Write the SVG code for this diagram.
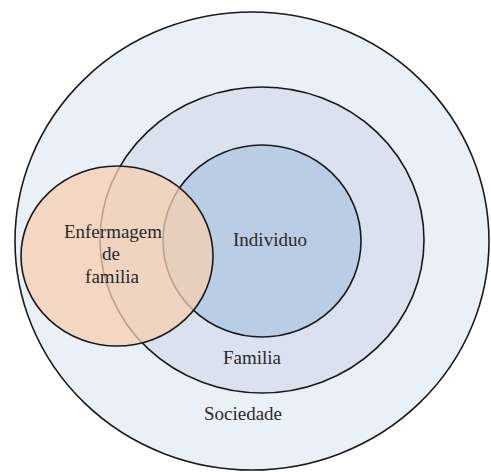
<svg xmlns="http://www.w3.org/2000/svg" width="491" height="472" viewBox="0 0 491 472">
<style>
.c{stroke:#1a1a1a;stroke-width:1.6}
.t{font-family:'Liberation Serif','DejaVu Serif','Times New Roman',Times,serif;font-size:19px;fill:#2a2a2a;text-anchor:middle}
</style>
<rect width="491" height="472" fill="#ffffff"/>
<g id="sociedade">
<ellipse class="c" cx="252" cy="241" rx="237" ry="229" fill="#eaf0f8"/>
<text class="t" x="243" y="420" font-family="Liberation Serif, DejaVu Serif, serif">Sociedade</text>
</g>
<g id="familia">
<ellipse class="c" cx="262" cy="240" rx="162" ry="153" fill="#d9e2ee"/>
<text class="t" x="252" y="364" font-family="Liberation Serif, DejaVu Serif, serif">Familia</text>
</g>
<g id="individuo">
<ellipse class="c" cx="262" cy="241" rx="99" ry="96" fill="#b9cde4"/>
<text class="t" x="270" y="246" font-family="Liberation Serif, DejaVu Serif, serif">Individuo</text>
</g>
<g id="enfermagem">
<ellipse class="c" cx="117" cy="256" rx="96" ry="90" fill="#f5cfb0" fill-opacity="0.75"/>
<text class="t" x="113" y="238" font-family="Liberation Serif, DejaVu Serif, serif">Enfermagem</text>
<text class="t" x="111" y="260" font-family="Liberation Serif, DejaVu Serif, serif">de</text>
<text class="t" x="112" y="283" font-family="Liberation Serif, DejaVu Serif, serif">familia</text>
</g>
</svg>
